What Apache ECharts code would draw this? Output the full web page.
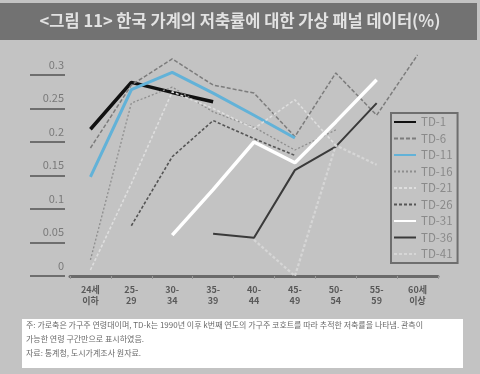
<!DOCTYPE html>
<html>
<head>
<meta charset="utf-8">
<script src="https://cdn.jsdelivr.net/npm/echarts@6/dist/echarts.min.js"></script>
<style>
html,body{margin:0;padding:0;background:#c3c3c3;}
#c{width:480px;height:374px;}
</style>
</head>
<body>
<div id="c"></div>
<script>
const categories = ['24세\n이하','25-\n29','30-\n34','35-\n39','40-\n44','45-\n49','50-\n54','55-\n59','60세\n이상'];
const seriesNames = ['TD-1','TD-6','TD-11','TD-16','TD-21','TD-26','TD-31','TD-36','TD-41'];
const td1  = [0.219, 0.289, 0.274, 0.260, null, null, null, null, null];
const td6  = [0.191, 0.285, 0.324, 0.285, 0.273, 0.208, 0.303, 0.240, 0.330];
const td11 = [0.148, 0.278, 0.304, 0.273, 0.240, 0.206, null, null, null];
const td16 = [0.024, 0.258, 0.282, 0.245, 0.222, 0.188, 0.218, null, null];
const td21 = [0.009, 0.138, 0.275, 0.250, 0.220, 0.263, 0.195, null, null];
const td26 = [null, 0.075, 0.178, 0.232, 0.205, 0.180, null, null, null];
const td31 = [null, null, 0.061, 0.129, 0.200, 0.169, 0.230, 0.293, null];
const td36 = [null, null, null, 0.063, 0.057, 0.158, 0.193, 0.258, null];
const td41 = [null, null, null, null, 0.054, 0.000, 0.195, 0.166, null];
const yTicks = [0, 0.05, 0.1, 0.15, 0.2, 0.25, 0.3];
const titleText = '<그림 11> 한국 가계의 저축률에 대한 가상 패널 데이터(%)';
const noteLines = [
  '주: 가로축은 가구주 연령대이며, TD-k는 1990년 이후 k번째 연도의 가구주 코호트를 따라 추적한 저축률을 나타냄. 관측이',
  '가능한 연령 구간만으로 표시하였음.',
  '자료: 통계청, 도시가계조사 원자료.'
];

const data = [td1, td6, td11, td16, td21, td26, td31, td36, td41];
const styles = [
  {color:'#111111', width:3.5, type:'solid'},
  {color:'#7c7c7c', width:1.5, type:[4,2]},
  {color:'#62b2d8', width:3, type:'solid'},
  {color:'#8e8e8e', width:1.3, type:[2,2]},
  {color:'#dedede', width:1.6, type:[3,2]},
  {color:'#555555', width:1.6, type:[3,2]},
  {color:'#ffffff', width:3.5, type:'solid'},
  {color:'#3a3a3a', width:2, type:'solid'},
  {color:'#d6d6d6', width:2.2, type:[3,2]}
];

const chart = echarts.init(document.getElementById('c'));
const font = '"Noto Sans CJK KR", "Noto Sans", sans-serif';
chart.setOption({
  backgroundColor: '#c3c3c3',
  animation: false,
  textStyle: {fontFamily: font},
  grid: {left: 70, right: 42, top: 75, bottom: 98},
  legend: {
    orient: 'vertical',
    left: 391, top: 113,
    data: seriesNames,
    itemWidth: 22, itemHeight: 8, itemGap: 4.5,
    itemStyle: {opacity: 0},
    borderColor: '#6e6e6e', borderWidth: 2,
    padding: [3, 5, 3, 2],
    textStyle: {color: '#8a8a8a', fontSize: 11.5, lineHeight: 12, fontFamily: font}
  },
  xAxis: {
    type: 'category',
    data: categories,
    boundaryGap: true,
    axisLine: {lineStyle: {color: '#6a6a6a', width: 3}},
    axisTick: {show: true, length: 3, lineStyle: {color: '#9a9a9a'}},
    axisLabel: {color: '#595959', fontSize: 9, lineHeight: 11, margin: 8, interval: 0, fontWeight: 'bold', fontFamily: font}
  },
  yAxis: {
    type: 'value',
    min: 0, max: 0.3, interval: 0.05,
    offset: 5,
    axisLine: {show: false},
    axisTick: {show: true, length: 35, lineStyle: {color: '#6e6e6e', width: 2}},
    splitLine: {show: false},
    axisLabel: {
      color: '#7a7a7a', fontSize: 11, margin: 1, verticalAlign: 'bottom', padding: [0,0,5,0],
      fontFamily: font,
      formatter: v => { const t = yTicks.find(x => Math.abs(x - v) < 1e-9); return t === undefined ? '' : String(t); }
    }
  },
  series: seriesNames.map((n, i) => ({
    name: n, type: 'line', data: data[i], symbol: 'none', clip: false,
    connectNulls: false,
    lineStyle: styles[i], itemStyle: {color: styles[i].color}
  })),
  graphic: [
    {type: 'rect', left: 0, top: 3, shape: {width: 477, height: 37}, style: {fill: '#727272'}, z: 100},
    {type: 'text', left: 'center', top: 12, style: {text: titleText, fill: '#e2e2e2', font: 'bold 16.5px ' + font}, z: 101},
    {type: 'rect', left: 22, top: 319, shape: {width: 441, height: 49}, style: {fill: '#ffffff'}, z: 100},
    {type: 'text', left: 26, top: 321, style: {text: noteLines[0], fill: '#6a6a6a', font: '8px ' + font}, z: 101},
    {type: 'text', left: 26, top: 335, style: {text: noteLines[1], fill: '#6a6a6a', font: '8px ' + font}, z: 101},
    {type: 'text', left: 26, top: 349, style: {text: noteLines[2], fill: '#6a6a6a', font: '8px ' + font}, z: 101}
  ]
});
</script>
</body>
</html>
